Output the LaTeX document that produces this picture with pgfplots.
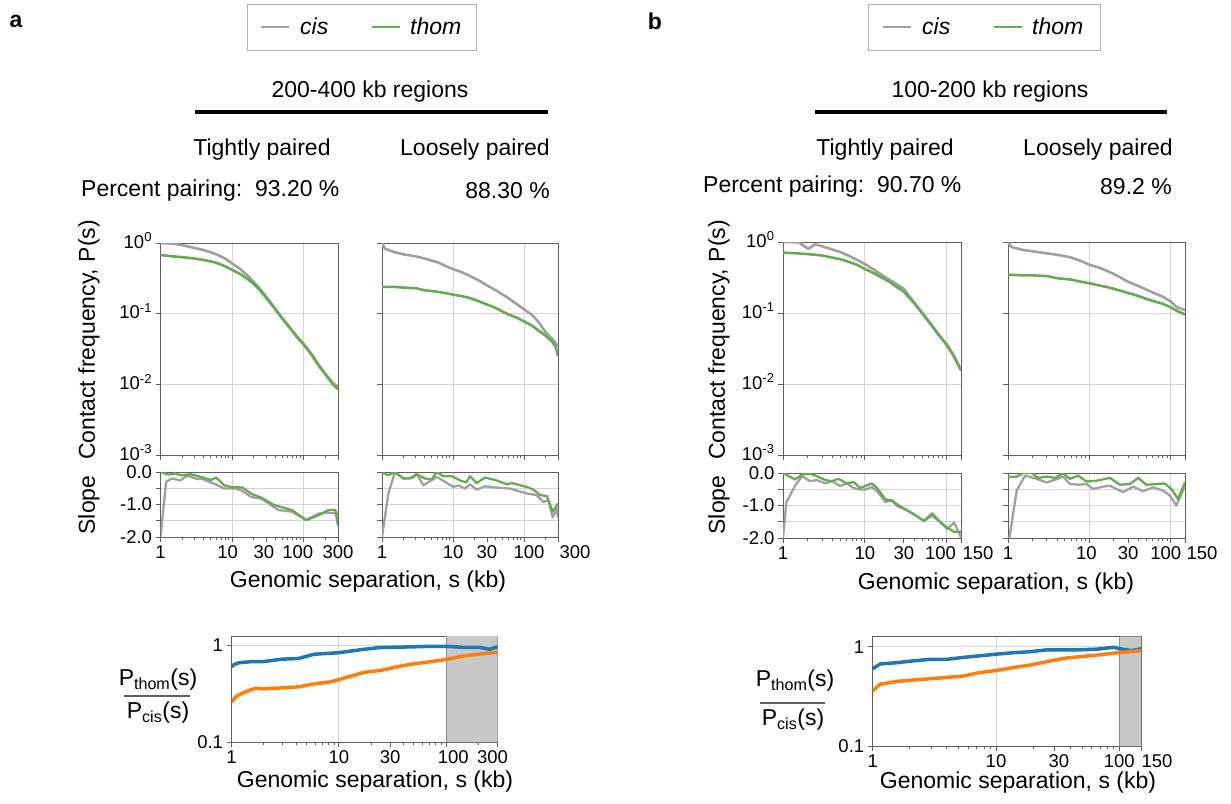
\documentclass[border=0pt]{standalone}
\usepackage{fontspec}
\setmainfont{Liberation Sans}
\usepackage{pgfplots}
\pgfplotsset{compat=1.18}
\definecolor{cisgray}{RGB}{160,160,160}
\definecolor{thomgreen}{RGB}{104,170,84}
\definecolor{mblue}{RGB}{31,119,180}
\definecolor{morange}{RGB}{255,127,14}
\definecolor{shade}{RGB}{200,200,200}
\definecolor{spine}{RGB}{95,95,95}
\definecolor{gridc}{RGB}{212,212,212}
\newcommand{\fa}{\fontsize{23}{27}\selectfont}
\newcommand{\ft}{\fontsize{18.5}{22}\selectfont}
\pgfplotsset{every axis/.append style={scale only axis, xmode=log,
    axis line style={draw=spine, line width=0.9pt},
    tick style={draw=spine, line width=0.9pt},
    major tick length=5pt, minor tick length=3pt, tick align=outside,
    xtick pos=bottom, ytick pos=left,
    xmajorgrids=true, ymajorgrids=true, grid style={gridc, line width=0.9pt},
    tick label style={font=\ft}, /pgf/number format/assume math mode=true,
    yminorticks=false}}
\tikzset{
  t/.style={inner sep=0pt, font=\fa},
  cisl/.style={cisgray, line width=2.6pt, line join=round},
  thoml/.style={thomgreen, line width=2.6pt, line join=round},
  cisls/.style={cisgray, line width=2.3pt, line join=round},
  thomls/.style={thomgreen, line width=2.3pt, line join=round}}
\begin{document}
\begin{tikzpicture}[x=1pt,y=1pt]
\useasboundingbox (0,0) rectangle (1231,-803);

% ================= PANEL A =================
\node[t, font=\fa\bfseries] at (16,-21) {a};
\draw[black!30, line width=0.9pt] (247,-4) rectangle (476,-50);
\draw[cisl] (261,-27) -- (289,-27);
\node[t, font=\fa\itshape, anchor=west] at (300,-26) {cis};
\draw[thoml] (372,-27) -- (400,-27);
\node[t, font=\fa\itshape, anchor=west] at (410,-26) {thom};
\node[t] at (370,-92) {200-400 kb regions};
\draw[line width=4pt] (195,-112) -- (548,-112);
\node[t] at (262,-150) {Tightly paired};
\node[t] at (475,-150) {Loosely paired};
\node[t, anchor=west] at (81,-191) {Percent pairing:\ \ 93.20 \%};
\node[t, anchor=east] at (550,-191) {88.30 \%};
\node[t, rotate=90] at (89,-340) {Contact frequency, P(s)};
\node[t, rotate=90] at (89,-505) {Slope};
\node[t] at (368,-582) {Genomic separation, s (kb)};

% A1 tight P(s)
\begin{axis}[at={(160.5pt,-455pt)}, anchor=south west, width=177.5pt, height=212pt,
  ymode=log, xmin=1, xmax=300, ymin=1e-3, ymax=1,
  xtick={1,10,100,300}, xticklabels={},
  minor xtick={2,3,4,5,6,7,8,9,20,30,40,50,60,70,80,90,200},
  ytick={1e-3,1e-2,1e-1,1}, yticklabel style={yshift=2.5pt},
  yticklabels={10\textsuperscript{-3},10\textsuperscript{-2},10\textsuperscript{-1},10\textsuperscript{0}}]
\addplot[cisl] coordinates {(1,1.0) (1.5,0.977) (2,0.933) (3,0.851) (4,0.794) (5,0.741) (6,0.692) (8,0.603) (10,0.513) (13,0.427) (16,0.355) (20,0.282) (25,0.219) (30,0.174) (40,0.117) (50,0.0871) (60,0.0692) (80,0.0479) (100,0.0372) (130,0.0263) (160,0.0191) (200,0.0141) (250,0.0107) (300,0.00912)};
\addplot[thoml] coordinates {(1,0.676) (1.5,0.646) (2,0.631) (3,0.603) (4,0.575) (5,0.550) (6,0.525) (8,0.468) (10,0.417) (13,0.363) (16,0.316) (20,0.263) (25,0.209) (30,0.166) (40,0.115) (50,0.0851) (60,0.0676) (80,0.0468) (100,0.0363) (130,0.0257) (160,0.0186) (200,0.0138) (250,0.0102) (300,0.00851)};
\end{axis}

% A2 loose P(s)
\begin{axis}[at={(382pt,-455pt)}, anchor=south west, width=176pt, height=212pt,
  ymode=log, xmin=1, xmax=300, ymin=1e-3, ymax=1,
  xtick={1,10,100,300}, xticklabels={},
  minor xtick={2,3,4,5,6,7,8,9,20,30,40,50,60,70,80,90,200},
  ytick={1e-3,1e-2,1e-1,1}, yticklabels={}]
\addplot[cisl] coordinates {(1,1.0) (1.1,0.832) (1.5,0.741) (2,0.692) (3,0.646) (4,0.603) (5,0.562) (6,0.537) (8,0.468) (10,0.427) (13,0.389) (16,0.355) (20,0.316) (25,0.282) (30,0.251) (40,0.214) (50,0.186) (60,0.166) (80,0.135) (100,0.115) (130,0.0955) (160,0.0759) (200,0.0550) (250,0.0437) (300,0.0347)};
\addplot[thoml] coordinates {(1,0.240) (1.5,0.240) (2,0.234) (3,0.229) (4,0.214) (5,0.209) (6,0.204) (8,0.195) (10,0.186) (13,0.178) (16,0.170) (20,0.158) (25,0.145) (30,0.135) (40,0.120) (50,0.107) (60,0.0977) (80,0.0871) (100,0.0776) (130,0.0676) (160,0.0575) (200,0.0490) (250,0.0398) (280,0.0331) (300,0.0251)};
\end{axis}

% A3 tight slope
\begin{axis}[at={(160.5pt,-537pt)}, anchor=south west, width=177.5pt, height=65pt,
  xmin=1, xmax=300, ymin=-2, ymax=0,
  xtick={1,10,100,300}, xticklabels={1,10\hspace*{9pt},100\hspace*{12pt},300},
  minor xtick={2,3,4,5,6,7,8,9,20,30,40,50,60,70,80,90,200},
  extra x ticks={30}, extra x tick labels={30\hspace*{5pt}}, extra x tick style={grid=none},
  ytick={-2,-1.5,-1,-0.5,0}, yticklabels={-2.0,,-1.0,,0.0}]
\addplot[cisls] coordinates {(1,-2.0) (1.2,-0.3) (1.45,-0.2) (1.9,-0.26) (2.3,-0.12) (2.65,-0.15) (3.3,-0.22) (3.7,-0.2) (4.5,-0.28) (5.6,-0.36) (7.8,-0.51) (10.8,-0.51) (13.4,-0.56) (18.5,-0.77) (25.6,-0.82) (35,-1.02) (44,-1.17) (68,-1.22) (108,-1.48) (160,-1.28) (220,-1.25) (280,-1.28) (300,-1.28)};
\addplot[thomls] coordinates {(1,0.0) (1.3,-0.08) (1.6,-0.04) (1.9,-0.1) (2.65,-0.07) (3.66,-0.15) (5.06,-0.25) (5.95,-0.17) (7.8,-0.41) (9.7,-0.46) (14,-0.48) (18.5,-0.67) (25.6,-0.79) (39,-1.02) (68,-1.17) (108,-1.48) (160,-1.33) (220,-1.17) (276,-1.17) (300,-1.65)};
\end{axis}

% A4 loose slope
\begin{axis}[at={(382pt,-537pt)}, anchor=south west, width=176pt, height=65pt,
  xmin=1, xmax=300, ymin=-2, ymax=0,
  xtick={1,10,100,300}, xticklabels={1,10,\hspace*{10pt}100,\hspace*{34pt}300},
  minor xtick={2,3,4,5,6,7,8,9,20,30,40,50,60,70,80,90,200},
  extra x ticks={30}, extra x tick labels={30}, extra x tick style={grid=none},
  ytick={-2,-1.5,-1,-0.5,0}, yticklabels={}]
\addplot[cisls] coordinates {(1,-2.0) (1.23,-0.66) (1.52,0.0) (2.0,-0.2) (2.76,-0.17) (3.08,-0.05) (3.82,-0.41) (5.89,-0.15) (10.1,-0.46) (11.9,-0.41) (14.8,-0.51) (17.3,-0.38) (21.5,-0.54) (28.2,-0.44) (41.2,-0.48) (63,-0.51) (109,-0.66) (150,-0.71) (187,-0.92) (219,-0.87) (253,-1.4) (290,-1.12) (300,-1.4)};
\addplot[thomls] coordinates {(1,0.0) (1.23,-0.1) (1.52,0.0) (2.0,-0.2) (2.48,-0.2) (3.08,-0.07) (4.03,-0.2) (5.0,-0.23) (5.89,0.0) (7.3,-0.13) (9.6,-0.13) (13.2,-0.28) (15.5,-0.31) (17.3,-0.13) (21.5,-0.34) (28.2,-0.17) (41.2,-0.26) (57,-0.38) (67,-0.34) (109,-0.46) (135,-0.54) (168,-0.71) (209,-0.74) (253,-1.22) (300,-0.97)};
\end{axis}

% A5 ratio
\node[t] at (158,-680) {P\textsubscript{thom}(s)};
\draw[spine, line width=1.4pt] (124,-696) -- (190,-696);
\node[t] at (158,-713) {P\textsubscript{cis}(s)};
\node[t] at (375,-782) {Genomic separation, s (kb)};
\begin{axis}[at={(231.5pt,-742pt)}, anchor=south west, width=266pt, height=106pt,
  ymode=log, xmin=1, xmax=300, ymin=0.1, ymax=1.25,
  xtick={1,10,100,300}, xticklabels={1,10,\hspace*{14pt}100,300\hspace*{10pt}},
  minor xtick={2,3,4,5,6,7,8,9,20,30,40,50,60,70,80,90,200},
  extra x ticks={30}, extra x tick labels={30}, extra x tick style={grid=none},
  ytick={0.1,1}, yticklabels={0.1,1}]
\addplot[fill=shade, draw=none] coordinates {(100,0.1) (300,0.1) (300,1.25) (100,1.25) (100,0.1)};
\addplot[draw=black!45, line width=1.2pt] coordinates {(100,0.1) (100,1.25)};
\addplot[mblue, line width=3.5pt, line join=round] coordinates {(1,0.60) (1.05,0.63) (1.17,0.66) (1.55,0.68) (2.0,0.68) (2.95,0.72) (4.17,0.73) (5.9,0.81) (10,0.84) (17,0.91) (24.4,0.95) (49.7,0.966) (70,0.977) (100,0.977) (143,0.955) (204,0.955) (252,0.912) (300,0.966)};
\addplot[morange, line width=3.5pt, line join=round] coordinates {(1,0.26) (1.1,0.295) (1.25,0.32) (1.66,0.36) (2.0,0.355) (2.95,0.363) (4.17,0.372) (5.9,0.40) (8.4,0.42) (12.1,0.47) (17,0.525) (24.4,0.55) (34.8,0.60) (49.7,0.645) (70,0.675) (100,0.716) (143,0.776) (204,0.813) (300,0.851)};
\end{axis}

% ================= PANEL B =================
\node[t, font=\fa\bfseries] at (655,-21) {b};
\draw[black!30, line width=0.9pt] (868,-4) rectangle (1100,-50);
\draw[cisl] (883,-27) -- (911,-27);
\node[t, font=\fa\itshape, anchor=west] at (922,-26) {cis};
\draw[thoml] (994,-27) -- (1022,-27);
\node[t, font=\fa\itshape, anchor=west] at (1032,-26) {thom};
\node[t] at (990,-92) {100-200 kb regions};
\draw[line width=4pt] (815,-112) -- (1167,-112);
\node[t] at (885,-150) {Tightly paired};
\node[t] at (1098,-150) {Loosely paired};
\node[t, anchor=west] at (703,-187) {Percent pairing:\ \ 90.70 \%};
\node[t, anchor=east] at (1172,-187) {89.2 \%};
\node[t, rotate=90] at (719,-340) {Contact frequency, P(s)};
\node[t, rotate=90] at (719,-505) {Slope};
\node[t] at (996,-584) {Genomic separation, s (kb)};

% B1 tight P(s)
\begin{axis}[at={(783pt,-455pt)}, anchor=south west, width=178pt, height=213pt,
  ymode=log, xmin=1, xmax=150, ymin=1e-3, ymax=1,
  xtick={1,10,100,150}, xticklabels={},
  minor xtick={2,3,4,5,6,7,8,9,20,30,40,50,60,70,80,90},
  ytick={1e-3,1e-2,1e-1,1}, yticklabel style={yshift=2.5pt},
  yticklabels={10\textsuperscript{-3},10\textsuperscript{-2},10\textsuperscript{-1},10\textsuperscript{0}}]
\addplot[cisl] coordinates {(1,1.0) (1.55,0.99) (2.04,0.80) (2.47,0.93) (3,0.87) (3.8,0.80) (5,0.724) (6,0.661) (8,0.562) (10,0.490) (13,0.407) (16,0.347) (20,0.295) (25,0.251) (30,0.219) (40,0.141) (50,0.102) (60,0.0776) (80,0.0501) (100,0.0363) (120,0.0263) (150,0.0158)};
\addplot[thoml] coordinates {(1,0.708) (1.5,0.692) (2,0.676) (3,0.646) (4,0.603) (5,0.575) (6,0.537) (8,0.479) (10,0.417) (13,0.363) (16,0.316) (20,0.275) (25,0.229) (30,0.200) (40,0.138) (50,0.100) (60,0.0760) (80,0.0490) (100,0.0355) (120,0.0257) (150,0.0155)};
\end{axis}

% B2 loose P(s)
\begin{axis}[at={(1008pt,-455pt)}, anchor=south west, width=177pt, height=213pt,
  ymode=log, xmin=1, xmax=150, ymin=1e-3, ymax=1,
  xtick={1,10,100,150}, xticklabels={},
  minor xtick={2,3,4,5,6,7,8,9,20,30,40,50,60,70,80,90},
  ytick={1e-3,1e-2,1e-1,1}, yticklabels={}]
\addplot[cisl] coordinates {(1,1.0) (1.1,0.851) (1.5,0.776) (2,0.741) (3,0.692) (4,0.661) (5,0.631) (6,0.603) (8,0.537) (10,0.479) (13,0.437) (16,0.398) (20,0.355) (25,0.309) (30,0.275) (40,0.240) (50,0.214) (60,0.195) (80,0.170) (100,0.145) (120,0.120) (150,0.110)};
\addplot[thoml] coordinates {(1,0.347) (1.5,0.339) (2,0.339) (3,0.331) (4,0.309) (5,0.302) (6,0.295) (8,0.275) (10,0.263) (13,0.245) (16,0.234) (20,0.219) (25,0.204) (30,0.191) (40,0.174) (50,0.158) (60,0.148) (80,0.135) (100,0.120) (120,0.107) (150,0.0955)};
\end{axis}

% B3 tight slope
\begin{axis}[at={(783pt,-538pt)}, anchor=south west, width=178pt, height=65pt,
  xmin=1, xmax=150, ymin=-2, ymax=0,
  xtick={1,10,100,150}, xticklabels={1,10,100\hspace*{12pt},\hspace*{34pt}150},
  minor xtick={2,3,4,5,6,7,8,9,20,30,40,50,60,70,80,90},
  extra x ticks={30}, extra x tick labels={30}, extra x tick style={grid=none},
  ytick={-2,-1.5,-1,-0.5,0}, yticklabels={-2.0,,-1.0,,0.0}]
\addplot[cisls] coordinates {(1,-2.0) (1.1,-0.9) (1.4,-0.4) (1.7,-0.1) (2.14,-0.25) (2.6,-0.22) (3.3,-0.32) (3.95,-0.25) (5.0,-0.4) (6.0,-0.32) (7.3,-0.46) (8.8,-0.51) (10.1,-0.51) (12.2,-0.43) (14.1,-0.56) (17.9,-0.89) (21.5,-0.83) (24.8,-1.02) (31.4,-1.12) (39.7,-1.27) (52.6,-1.47) (66.7,-1.32) (84.4,-1.52) (102,-1.73) (123,-1.52) (150,-1.98)};
\addplot[thomls] coordinates {(1,0.0) (1.4,-0.2) (1.7,-0.05) (2.14,-0.02) (2.6,-0.1) (3.3,-0.22) (3.95,-0.25) (4.8,-0.18) (6.0,-0.32) (7.3,-0.28) (8.8,-0.46) (10.1,-0.4) (12.2,-0.32) (14.1,-0.46) (17.9,-0.81) (21.5,-0.86) (24.8,-0.96) (31.4,-1.12) (39.7,-1.27) (52.6,-1.47) (66.7,-1.24) (84.4,-1.52) (102,-1.68) (123,-1.81) (150,-1.81)};
\end{axis}

% B4 loose slope
\begin{axis}[at={(1008pt,-538pt)}, anchor=south west, width=177pt, height=65pt,
  xmin=1, xmax=150, ymin=-2, ymax=0,
  xtick={1,10,100,150}, xticklabels={1,10\hspace*{6pt},100\hspace*{10pt},\hspace*{34pt}150},
  minor xtick={2,3,4,5,6,7,8,9,20,30,40,50,60,70,80,90},
  extra x ticks={30}, extra x tick labels={30}, extra x tick style={grid=none},
  ytick={-2,-1.5,-1,-0.5,0}, yticklabels={}]
\addplot[cisls] coordinates {(1.04,-2.0) (1.28,-0.54) (1.62,-0.08) (2.05,-0.15) (2.98,-0.29) (3.96,-0.19) (4.77,-0.11) (5.77,-0.34) (7.65,-0.36) (9.2,-0.34) (11.1,-0.49) (14.8,-0.42) (17.9,-0.39) (26,-0.59) (34.5,-0.42) (45.8,-0.56) (60.7,-0.44) (80.5,-0.54) (97.2,-0.69) (117,-1.0) (150,-0.4)};
\addplot[thomls] coordinates {(1,-0.13) (1.28,-0.11) (1.54,0.0) (1.95,0.0) (2.36,-0.15) (2.98,-0.11) (3.77,-0.15) (4.77,-0.01) (5.77,-0.18) (7.3,-0.08) (9.2,-0.26) (12.2,-0.24) (17.9,-0.15) (23.7,-0.36) (31.4,-0.34) (39.8,-0.15) (50.3,-0.36) (66.7,-0.34) (84.4,-0.32) (102,-0.49) (123,-0.8) (150,-0.29)};
\end{axis}

% B5 ratio
\node[t] at (795,-681) {P\textsubscript{thom}(s)};
\draw[spine, line width=1.4pt] (760,-703) -- (825,-703);
\node[t] at (793,-720) {P\textsubscript{cis}(s)};
\node[t] at (1018,-783) {Genomic separation, s (kb)};
\begin{axis}[at={(872.7pt,-746pt)}, anchor=south west, width=268.3pt, height=109.3pt,
  ymode=log, xmin=1, xmax=150, ymin=0.1, ymax=1.26,
  xtick={1,10,100,150}, xticklabels={1,10,100,\hspace*{32pt}150},
  minor xtick={2,3,4,5,6,7,8,9,20,30,40,50,60,70,80,90},
  extra x ticks={30}, extra x tick labels={\hspace*{8pt}30}, extra x tick style={grid=none},
  ytick={0.1,1}, yticklabels={0.1,1}]
\addplot[fill=shade, draw=none] coordinates {(100,0.1) (150,0.1) (150,1.26) (100,1.26) (100,0.1)};
\addplot[draw=black!45, line width=1.2pt] coordinates {(100,0.1) (100,1.26)};
\addplot[mblue, line width=3.5pt, line join=round] coordinates {(1,0.60) (1.15,0.67) (1.57,0.69) (2.14,0.72) (2.92,0.746) (4.0,0.746) (5.45,0.78) (10,0.84) (13.9,0.87) (19,0.89) (26,0.93) (48,0.93) (66,0.944) (90,0.986) (100,0.955) (126,0.912) (150,0.955)};
\addplot[morange, line width=3.5pt, line join=round] coordinates {(1,0.36) (1.15,0.42) (1.57,0.447) (2.14,0.462) (4.0,0.49) (5.45,0.507) (7.46,0.55) (10,0.575) (13.9,0.617) (19,0.653) (26,0.708) (35.6,0.764) (48,0.794) (66,0.824) (100,0.871) (150,0.912)};
\end{axis}
\end{tikzpicture}
\end{document}
